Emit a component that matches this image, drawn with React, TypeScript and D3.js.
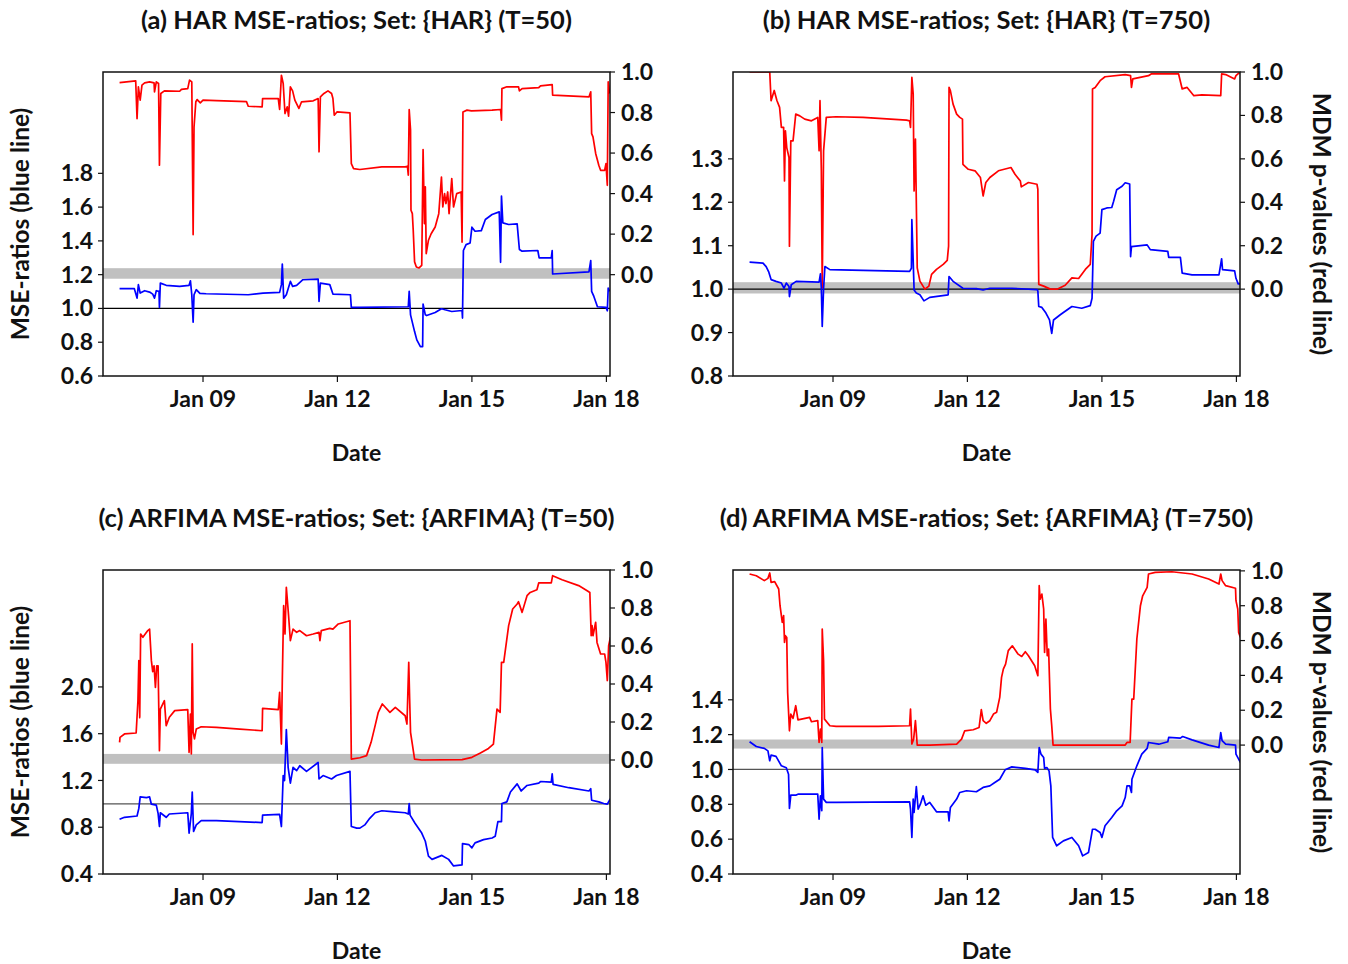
import * as d3 from 'd3';

// decimal year -> UTC date
const toDate = (y: number) => {
  const yr = Math.floor(y);
  const start = Date.UTC(yr, 0, 1);
  const end = Date.UTC(yr + 1, 0, 1);
  return new Date(start + (y - yr) * (end - start));
};

// x axis
const xDomainYears = [2006.77, 2018.08];
const xTickYears = [2009, 2012, 2015, 2018];
const xTickLabels = ['Jan 09', 'Jan 12', 'Jan 15', 'Jan 18'];
const rightTicks = [0, 0.2, 0.4, 0.6, 0.8, 1.0];

// left (MSE-ratio) ticks per panel
const aLeftTicks = [0.6, 0.8, 1.0, 1.2, 1.4, 1.6, 1.8];
const bLeftTicks = [0.8, 0.9, 1.0, 1.1, 1.2, 1.3];
const cLeftTicks = [0.4, 0.8, 1.2, 1.6, 2.0];
const dLeftTicks = [0.4, 0.6, 0.8, 1.0, 1.2, 1.4];

// (a) HAR, T=50 : [decimal year, value]
const aRed = [[2007.14,0.948],[2007.50,0.956],[2007.53,0.770],[2007.56,0.927],[2007.60,0.861],[2007.64,0.935],[2007.70,0.946],[2007.81,0.951],[2007.91,0.946],[2007.92,0.902],[2007.96,0.951],[2008.01,0.943],[2008.03,0.540],[2008.06,0.894],[2008.14,0.907],[2008.48,0.905],[2008.52,0.914],[2008.66,0.918],[2008.70,0.960],[2008.75,0.951],[2008.78,0.198],[2008.80,0.729],[2008.84,0.853],[2008.87,0.864],[2008.94,0.848],[2009.00,0.861],[2009.30,0.859],[2009.97,0.854],[2010.01,0.831],[2010.32,0.828],[2010.33,0.869],[2010.68,0.869],[2010.71,0.815],[2010.75,0.984],[2010.79,0.943],[2010.83,0.795],[2010.88,0.828],[2010.91,0.782],[2010.95,0.927],[2011.00,0.907],[2011.05,0.861],[2011.14,0.820],[2011.20,0.853],[2011.46,0.858],[2011.57,0.869],[2011.59,0.606],[2011.62,0.877],[2011.70,0.894],[2011.79,0.907],[2011.87,0.894],[2011.90,0.869],[2011.93,0.787],[2011.99,0.803],[2012.28,0.798],[2012.31,0.548],[2012.36,0.523],[2012.50,0.519],[2012.99,0.532],[2013.51,0.532],[2013.56,0.535],[2013.58,0.491],[2013.60,0.815],[2013.63,0.713],[2013.64,0.318],[2013.67,0.301],[2013.69,0.219],[2013.72,0.063],[2013.76,0.038],[2013.82,0.033],[2013.88,0.046],[2013.91,0.617],[2013.94,0.252],[2013.96,0.433],[2013.98,0.104],[2014.03,0.170],[2014.09,0.202],[2014.18,0.235],[2014.26,0.301],[2014.32,0.482],[2014.35,0.334],[2014.39,0.400],[2014.42,0.351],[2014.46,0.408],[2014.49,0.301],[2014.55,0.474],[2014.59,0.334],[2014.66,0.400],[2014.76,0.408],[2014.78,0.161],[2014.80,0.803],[2014.89,0.812],[2014.99,0.808],[2015.45,0.812],[2015.64,0.815],[2015.66,0.762],[2015.67,0.918],[2015.78,0.927],[2016.04,0.927],[2016.06,0.907],[2016.12,0.918],[2016.49,0.923],[2016.53,0.932],[2016.79,0.938],[2016.80,0.886],[2017.61,0.877],[2017.65,0.902],[2017.67,0.696],[2017.70,0.680],[2017.76,0.598],[2017.83,0.540],[2017.87,0.515],[2017.96,0.515],[2017.99,0.548],[2018.02,0.441],[2018.04,0.951],[2018.07,0.894]];
const aBlue = [[2007.14,1.117],[2007.47,1.117],[2007.53,1.061],[2007.56,1.141],[2007.60,1.091],[2007.70,1.105],[2007.81,1.097],[2007.88,1.085],[2007.92,1.061],[2007.96,1.105],[2008.02,1.101],[2008.03,1.006],[2008.05,1.150],[2008.18,1.137],[2008.48,1.131],[2008.69,1.137],[2008.72,1.164],[2008.75,1.081],[2008.78,0.919],[2008.80,1.081],[2008.85,1.111],[2008.93,1.089],[2009.07,1.087],[2010.01,1.081],[2010.34,1.091],[2010.71,1.095],[2010.75,1.141],[2010.77,1.263],[2010.80,1.061],[2010.86,1.081],[2010.95,1.160],[2011.00,1.131],[2011.09,1.137],[2011.23,1.170],[2011.57,1.174],[2011.59,1.042],[2011.62,1.150],[2011.83,1.141],[2011.90,1.085],[2012.29,1.081],[2012.31,1.006],[2012.50,1.006],[2013.58,1.010],[2013.60,1.101],[2013.63,0.962],[2013.72,0.863],[2013.77,0.814],[2013.85,0.774],[2013.90,0.774],[2013.91,1.026],[2013.96,0.962],[2013.99,0.958],[2014.18,0.976],[2014.32,0.998],[2014.40,0.992],[2014.55,0.982],[2014.78,0.988],[2014.79,0.943],[2014.81,1.343],[2014.87,1.378],[2014.96,1.388],[2015.00,1.481],[2015.07,1.457],[2015.21,1.461],[2015.30,1.527],[2015.45,1.556],[2015.61,1.572],[2015.64,1.273],[2015.66,1.665],[2015.69,1.507],[2015.82,1.497],[2016.01,1.501],[2016.06,1.349],[2016.12,1.339],[2016.47,1.343],[2016.50,1.299],[2016.77,1.299],[2016.79,1.343],[2016.80,1.204],[2017.61,1.216],[2017.65,1.283],[2017.67,1.101],[2017.72,1.071],[2017.80,1.010],[2017.99,1.006],[2018.02,0.986],[2018.04,1.121],[2018.07,1.101]];

// (b) HAR, T=750
const bRed = [[2007.14,1.000],[2007.59,1.000],[2007.62,0.868],[2007.69,0.915],[2007.75,0.869],[2007.81,0.837],[2007.85,0.745],[2007.90,0.745],[2007.92,0.498],[2007.94,0.729],[2007.97,0.652],[2008.02,0.606],[2008.03,0.198],[2008.06,0.683],[2008.11,0.683],[2008.17,0.806],[2008.26,0.798],[2008.37,0.783],[2008.52,0.775],[2008.66,0.791],[2008.69,0.637],[2008.71,0.868],[2008.74,0.545],[2008.76,0.006],[2008.79,0.637],[2008.85,0.791],[2009.07,0.794],[2009.67,0.791],[2010.64,0.778],[2010.71,0.775],[2010.73,0.745],[2010.76,0.975],[2010.79,0.898],[2010.81,0.452],[2010.84,0.691],[2010.88,0.098],[2010.94,0.037],[2011.05,0.000],[2011.14,0.014],[2011.20,0.068],[2011.31,0.091],[2011.46,0.114],[2011.55,0.132],[2011.58,0.198],[2011.59,0.929],[2011.62,0.914],[2011.68,0.852],[2011.76,0.806],[2011.83,0.791],[2011.89,0.783],[2011.90,0.575],[2012.02,0.552],[2012.17,0.545],[2012.29,0.514],[2012.35,0.429],[2012.41,0.491],[2012.50,0.514],[2012.69,0.545],[2012.97,0.560],[2013.06,0.529],[2013.18,0.498],[2013.20,0.471],[2013.36,0.491],[2013.55,0.483],[2013.57,0.460],[2013.59,0.022],[2013.70,0.014],[2013.85,0.000],[2014.00,0.000],[2014.18,0.018],[2014.33,0.052],[2014.48,0.049],[2014.63,0.091],[2014.74,0.114],[2014.78,0.252],[2014.79,0.922],[2014.85,0.929],[2014.96,0.960],[2015.07,0.978],[2015.52,0.988],[2015.64,0.983],[2015.66,0.929],[2015.69,0.968],[2016.04,0.983],[2016.10,0.991],[2016.71,0.991],[2016.79,0.922],[2016.90,0.929],[2017.05,0.891],[2017.23,0.895],[2017.65,0.891],[2017.67,0.991],[2017.76,0.988],[2017.96,0.968],[2017.99,0.983],[2018.07,0.998]];
const bBlue = [[2007.14,1.062],[2007.44,1.060],[2007.51,1.052],[2007.57,1.039],[2007.62,1.022],[2007.73,1.018],[2007.85,1.014],[2007.91,1.002],[2007.96,1.014],[2008.02,1.006],[2008.03,0.983],[2008.07,1.010],[2008.18,1.018],[2008.69,1.016],[2008.72,1.035],[2008.74,1.002],[2008.76,0.914],[2008.79,1.002],[2008.82,1.052],[2008.93,1.045],[2009.67,1.043],[2010.71,1.041],[2010.75,1.048],[2010.76,1.160],[2010.79,1.064],[2010.81,0.998],[2010.86,0.991],[2010.94,0.987],[2011.03,0.973],[2011.16,0.981],[2011.57,0.987],[2011.59,1.029],[2011.68,1.018],[2011.90,1.002],[2012.20,1.001],[2012.35,0.998],[2012.50,1.002],[2012.99,1.002],[2013.55,0.999],[2013.57,0.996],[2013.59,0.960],[2013.66,0.958],[2013.75,0.945],[2013.83,0.929],[2013.88,0.898],[2013.92,0.929],[2014.07,0.941],[2014.33,0.960],[2014.55,0.956],[2014.74,0.962],[2014.78,0.979],[2014.81,1.110],[2014.87,1.122],[2014.96,1.129],[2015.00,1.183],[2015.11,1.187],[2015.22,1.188],[2015.26,1.202],[2015.33,1.229],[2015.45,1.237],[2015.52,1.245],[2015.62,1.242],[2015.64,1.075],[2015.66,1.098],[2016.01,1.102],[2016.08,1.091],[2016.47,1.087],[2016.49,1.073],[2016.75,1.073],[2016.79,1.037],[2017.01,1.033],[2017.61,1.033],[2017.67,1.070],[2017.69,1.045],[2017.96,1.042],[2017.99,1.025],[2018.04,1.012],[2018.09,1.012]];

// (c) ARFIMA, T=50
const cRed = [[2007.14,0.093],[2007.15,0.119],[2007.25,0.137],[2007.51,0.142],[2007.55,0.312],[2007.57,0.523],[2007.59,0.223],[2007.61,0.663],[2007.66,0.646],[2007.77,0.681],[2007.81,0.689],[2007.85,0.523],[2007.88,0.465],[2007.91,0.496],[2007.94,0.382],[2007.97,0.496],[2008.00,0.496],[2008.03,0.049],[2008.05,0.268],[2008.14,0.312],[2008.18,0.181],[2008.25,0.225],[2008.37,0.260],[2008.66,0.265],[2008.69,0.040],[2008.72,0.242],[2008.74,0.032],[2008.76,0.611],[2008.78,0.146],[2008.81,0.111],[2008.85,0.163],[2008.96,0.175],[2009.30,0.172],[2009.82,0.163],[2010.32,0.154],[2010.33,0.272],[2010.68,0.265],[2010.71,0.356],[2010.75,0.084],[2010.77,0.418],[2010.80,0.812],[2010.83,0.663],[2010.86,0.909],[2010.91,0.760],[2010.95,0.628],[2011.01,0.689],[2011.09,0.672],[2011.16,0.681],[2011.31,0.654],[2011.46,0.663],[2011.59,0.672],[2011.61,0.628],[2011.64,0.681],[2011.83,0.693],[2011.90,0.689],[2012.02,0.716],[2012.28,0.733],[2012.31,0.005],[2012.50,0.012],[2012.65,0.023],[2012.75,0.093],[2012.84,0.181],[2012.91,0.251],[2013.00,0.295],[2013.17,0.251],[2013.29,0.277],[2013.51,0.233],[2013.55,0.189],[2013.59,0.514],[2013.61,0.321],[2013.63,0.146],[2013.67,0.084],[2013.72,0.005],[2013.88,0.000],[2014.78,0.002],[2015.00,0.014],[2015.19,0.037],[2015.37,0.061],[2015.48,0.084],[2015.56,0.268],[2015.63,0.251],[2015.66,0.514],[2015.71,0.514],[2015.82,0.707],[2015.91,0.795],[2016.01,0.821],[2016.04,0.833],[2016.12,0.777],[2016.23,0.865],[2016.30,0.882],[2016.45,0.896],[2016.49,0.932],[2016.77,0.932],[2016.80,0.970],[2017.01,0.949],[2017.38,0.918],[2017.57,0.891],[2017.63,0.882],[2017.66,0.654],[2017.68,0.707],[2017.70,0.654],[2017.76,0.725],[2017.79,0.619],[2017.87,0.558],[2017.96,0.558],[2017.99,0.514],[2018.02,0.418],[2018.05,0.602],[2018.09,0.646]];
const cBlue = [[2007.14,0.868],[2007.25,0.885],[2007.53,0.896],[2007.57,0.961],[2007.60,1.059],[2007.74,1.053],[2007.81,1.059],[2007.85,0.997],[2007.96,0.989],[2008.00,0.919],[2008.03,0.806],[2008.05,0.924],[2008.18,0.885],[2008.25,0.913],[2008.66,0.924],[2008.69,0.750],[2008.74,0.919],[2008.76,1.101],[2008.79,0.764],[2008.85,0.820],[2008.96,0.857],[2009.30,0.857],[2010.32,0.840],[2010.33,0.904],[2010.71,0.910],[2010.75,0.806],[2010.79,1.242],[2010.82,1.199],[2010.86,1.635],[2010.90,1.312],[2010.95,1.177],[2011.01,1.312],[2011.09,1.284],[2011.16,1.326],[2011.31,1.278],[2011.57,1.354],[2011.59,1.213],[2011.68,1.242],[2011.87,1.213],[2011.98,1.242],[2012.28,1.278],[2012.31,0.806],[2012.43,0.792],[2012.50,0.792],[2012.61,0.820],[2012.72,0.876],[2012.84,0.924],[2012.99,0.941],[2013.21,0.933],[2013.51,0.924],[2013.58,0.913],[2013.60,1.003],[2013.62,0.904],[2013.73,0.834],[2013.88,0.750],[2013.96,0.680],[2014.03,0.553],[2014.11,0.525],[2014.33,0.559],[2014.48,0.525],[2014.59,0.469],[2014.78,0.478],[2014.79,0.660],[2014.93,0.652],[2015.00,0.624],[2015.07,0.666],[2015.26,0.694],[2015.45,0.708],[2015.52,0.722],[2015.58,0.848],[2015.66,0.848],[2015.67,1.003],[2015.78,1.017],[2015.86,1.101],[2016.01,1.171],[2016.10,1.110],[2016.23,1.157],[2016.49,1.177],[2016.53,1.191],[2016.77,1.185],[2016.79,1.256],[2016.81,1.166],[2017.16,1.138],[2017.61,1.110],[2017.65,1.129],[2017.67,1.031],[2017.83,1.017],[2017.94,1.003],[2018.02,0.997],[2018.07,1.031],[2018.09,1.045]];

// (d) ARFIMA, T=750
const dRed = [[2007.14,0.982],[2007.29,0.972],[2007.47,0.944],[2007.55,0.957],[2007.59,0.988],[2007.62,0.934],[2007.70,0.938],[2007.79,0.896],[2007.82,0.800],[2007.87,0.704],[2007.90,0.743],[2007.92,0.589],[2007.94,0.628],[2007.97,0.618],[2007.99,0.302],[2008.03,0.082],[2008.06,0.178],[2008.11,0.153],[2008.17,0.226],[2008.22,0.145],[2008.48,0.159],[2008.52,0.134],[2008.66,0.140],[2008.69,0.015],[2008.72,0.092],[2008.75,0.015],[2008.76,0.666],[2008.79,0.484],[2008.81,0.149],[2008.93,0.111],[2009.07,0.107],[2010.01,0.107],[2010.71,0.111],[2010.73,0.207],[2010.76,0.006],[2010.80,0.034],[2010.84,0.140],[2010.88,0.000],[2011.16,0.000],[2011.76,0.006],[2011.87,0.034],[2011.94,0.082],[2012.13,0.088],[2012.26,0.101],[2012.31,0.203],[2012.35,0.140],[2012.42,0.125],[2012.50,0.140],[2012.58,0.178],[2012.65,0.188],[2012.72,0.274],[2012.76,0.389],[2012.80,0.436],[2012.85,0.465],[2012.91,0.542],[2013.00,0.570],[2013.13,0.522],[2013.21,0.509],[2013.29,0.536],[2013.36,0.513],[2013.50,0.455],[2013.57,0.398],[2013.60,0.915],[2013.62,0.838],[2013.66,0.867],[2013.70,0.781],[2013.72,0.532],[2013.75,0.723],[2013.78,0.513],[2013.81,0.551],[2013.85,0.207],[2013.88,0.111],[2013.91,0.000],[2014.63,0.000],[2015.52,0.000],[2015.56,0.015],[2015.63,0.015],[2015.67,0.264],[2015.71,0.264],[2015.78,0.609],[2015.86,0.800],[2015.91,0.857],[2016.01,0.905],[2016.04,0.982],[2016.19,0.991],[2016.56,0.995],[2017.01,0.982],[2017.38,0.953],[2017.61,0.924],[2017.65,0.982],[2017.68,0.944],[2017.76,0.915],[2017.98,0.900],[2017.99,0.829],[2018.03,0.781],[2018.05,0.647],[2018.09,0.618]];
const dBlue = [[2007.14,1.159],[2007.29,1.132],[2007.47,1.121],[2007.55,1.107],[2007.59,1.050],[2007.62,1.082],[2007.73,1.075],[2007.85,1.021],[2007.96,1.010],[2008.01,0.973],[2008.03,0.776],[2008.06,0.853],[2008.18,0.853],[2008.22,0.858],[2008.66,0.858],[2008.69,0.715],[2008.72,0.849],[2008.75,0.763],[2008.76,1.126],[2008.79,0.830],[2008.85,0.811],[2009.07,0.811],[2010.71,0.814],[2010.73,0.772],[2010.76,0.610],[2010.79,0.830],[2010.81,0.753],[2010.86,0.902],[2010.90,0.772],[2010.95,0.801],[2011.01,0.849],[2011.07,0.795],[2011.16,0.811],[2011.31,0.757],[2011.57,0.757],[2011.59,0.705],[2011.62,0.782],[2011.76,0.830],[2011.83,0.868],[2011.98,0.878],[2012.20,0.872],[2012.35,0.897],[2012.50,0.906],[2012.61,0.925],[2012.72,0.944],[2012.84,0.998],[2012.99,1.015],[2013.29,1.006],[2013.51,0.998],[2013.57,0.983],[2013.60,1.126],[2013.64,1.088],[2013.70,1.069],[2013.72,1.006],[2013.77,1.011],[2013.82,0.992],[2013.86,0.906],[2013.90,0.610],[2013.99,0.562],[2014.14,0.590],[2014.33,0.610],[2014.48,0.562],[2014.57,0.504],[2014.70,0.523],[2014.79,0.657],[2014.85,0.657],[2014.96,0.638],[2015.00,0.610],[2015.07,0.677],[2015.22,0.724],[2015.33,0.763],[2015.45,0.791],[2015.52,0.839],[2015.56,0.906],[2015.62,0.906],[2015.66,0.868],[2015.67,0.944],[2015.78,1.021],[2015.89,1.088],[2016.01,1.121],[2016.04,1.155],[2016.27,1.145],[2016.47,1.159],[2016.49,1.184],[2016.75,1.180],[2016.80,1.189],[2017.01,1.170],[2017.38,1.140],[2017.61,1.126],[2017.65,1.212],[2017.68,1.165],[2017.76,1.145],[2017.98,1.140],[2017.99,1.088],[2018.05,1.059],[2018.09,1.040]];

const FONT = 'Lato, "Open Sans", sans-serif';
const plotW = 507;
const plotH = 304;

const panels = [
  { title: '(a) HAR MSE-ratios; Set: {HAR} (T=50)', x0: 103, y0: 72, red: aRed, blue: aBlue,
    left: [0.6, 2.4], right: [-0.5, 1.0], leftTicks: aLeftTicks, leftTitle: true, rightTitle: false, oneColor: '#000' },
  { title: '(b) HAR MSE-ratios; Set: {HAR} (T=750)', x0: 733, y0: 72, red: bRed, blue: bBlue,
    left: [0.8, 1.5], right: [-0.4, 1.0], leftTicks: bLeftTicks, leftTitle: false, rightTitle: true, oneColor: '#000' },
  { title: '(c) ARFIMA MSE-ratios; Set: {ARFIMA} (T=50)', x0: 103, y0: 570, red: cRed, blue: cBlue,
    left: [0.4, 3.0], right: [-0.6, 1.0], leftTicks: cLeftTicks, leftTitle: true, rightTitle: false, oneColor: '#555' },
  { title: '(d) ARFIMA MSE-ratios; Set: {ARFIMA} (T=750)', x0: 733, y0: 570, red: dRed, blue: dBlue,
    left: [0.4, 2.145], right: [-0.74, 1.005], leftTicks: dLeftTicks, leftTitle: false, rightTitle: true, oneColor: '#555' },
];

function Panel({ p }: { p: any }) {
  const { x0, y0 } = p;
  const x1 = x0 + plotW;
  const y1 = y0 + plotH;
  const x = d3.scaleUtc([toDate(xDomainYears[0]), toDate(xDomainYears[1])], [x0, x1]);
  const yL = d3.scaleLinear(p.left, [y1, y0]);
  const yR = d3.scaleLinear(p.right, [y1, y0]);
  const fmt = d3.format('.1f');

  const redLine = d3.line<number[]>().x(d => x(toDate(d[0]))).y(d => yR(d[1]));
  const blueLine = d3.line<number[]>().x(d => x(toDate(d[0]))).y(d => yL(d[1]));
  const cx = (x0 + x1) / 2;
  const cy = (y0 + y1) / 2;
  const clipId = `clip-${x0}-${y0}`;

  return (
    <g fontFamily={FONT} fontWeight={700} fill="#111">
      <defs>
        <clipPath id={clipId}>
          <rect x={x0} y={y0} width={plotW} height={plotH} />
        </clipPath>
      </defs>
      <text x={cx} y={y0 - 43} textAnchor="middle" fontSize={25.5}>{p.title}</text>

      <g clipPath={`url(#${clipId})`}>
        {/* significance band around p = 0 */}
        <rect x={x0} width={plotW} y={yR(0.032)} height={yR(-0.02) - yR(0.032)} fill="#c0c0c0" />
        <line x1={x0} x2={x1} y1={yL(1)} y2={yL(1)} stroke={p.oneColor} strokeWidth={1.2} />
        <path d={redLine(p.red) ?? ''} fill="none" stroke="#ff0000" strokeWidth={1.7} strokeLinejoin="round" />
        <path d={blueLine(p.blue) ?? ''} fill="none" stroke="#0000ff" strokeWidth={1.7} strokeLinejoin="round" />
      </g>

      <rect x={x0} y={y0} width={plotW} height={plotH} fill="none" stroke="#111" strokeWidth={1.5} />

      {/* left axis */}
      {p.leftTicks.map((t: number) => (
        <g key={`l${t}`}>
          <line x1={x0 - 5} x2={x0} y1={yL(t)} y2={yL(t)} stroke="#111" strokeWidth={1.2} />
          <text x={x0 - 10} y={yL(t)} dy="0.35em" textAnchor="end" fontSize={23}>{fmt(t)}</text>
        </g>
      ))}
      {/* right axis */}
      {rightTicks.map(t => (
        <g key={`r${t}`}>
          <line x1={x1} x2={x1 + 5} y1={yR(t)} y2={yR(t)} stroke="#111" strokeWidth={1.2} />
          <text x={x1 + 11} y={yR(t)} dy="0.35em" textAnchor="start" fontSize={23}>{fmt(t)}</text>
        </g>
      ))}
      {/* x axis */}
      {xTickYears.map((yr, i) => (
        <g key={`x${yr}`}>
          <line x1={x(toDate(yr))} x2={x(toDate(yr))} y1={y1} y2={y1 + 6} stroke="#111" strokeWidth={1.2} />
          <text x={x(toDate(yr))} y={y1 + 31} textAnchor="middle" fontSize={23}>{xTickLabels[i]}</text>
        </g>
      ))}
      <text x={cx} y={y1 + 85} textAnchor="middle" fontSize={23}>Date</text>

      {p.leftTitle && (
        <text transform={`translate(${x0 - 83},${cy}) rotate(-90)`} textAnchor="middle" dy="0.35em" fontSize={24.5}>
          MSE-ratios (blue line)
        </text>
      )}
      {p.rightTitle && (
        <text transform={`translate(${x1 + 82},${cy}) rotate(90)`} textAnchor="middle" dy="0.35em" fontSize={24.5}>
          MDM p-values (red line)
        </text>
      )}
    </g>
  );
}

export default function App() {
  return (
    <svg width={1348} height={964} style={{ position: 'absolute', left: 0, top: 0, background: '#fff' }}>
      <rect width={1348} height={964} fill="#fff" />
      {panels.map((p, i) => <Panel key={i} p={p} />)}
    </svg>
  );
}
